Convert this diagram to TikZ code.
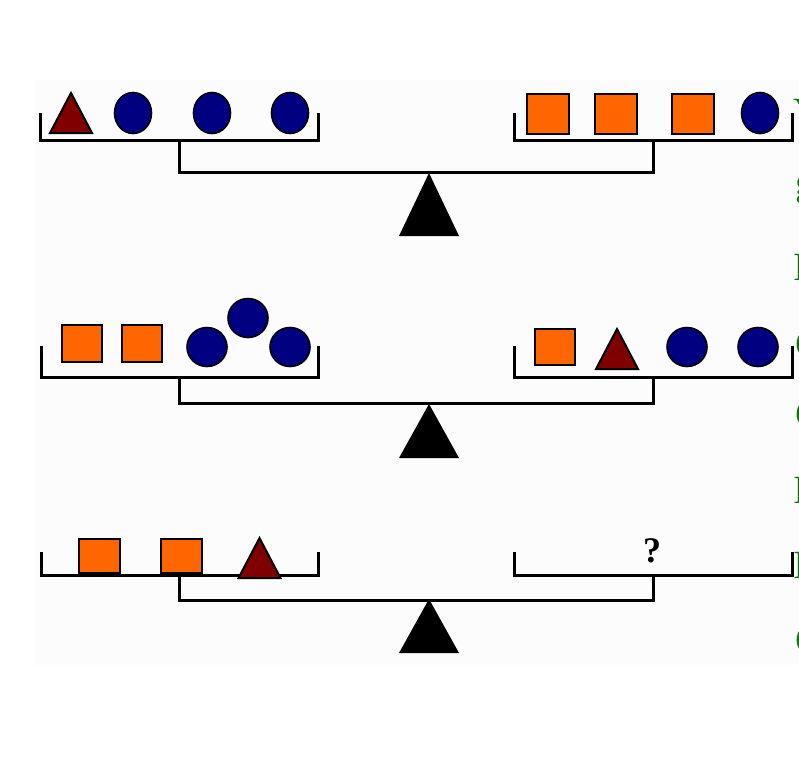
\documentclass[tikz,border=0pt]{standalone}
\usepackage{fontspec}
\setmainfont{Liberation Serif}
\usetikzlibrary{shapes.geometric}
\definecolor{navyc}{RGB}{0,0,128}
\definecolor{orangec}{RGB}{255,102,0}
\definecolor{redc}{RGB}{128,0,0}
\definecolor{greenc}{RGB}{20,110,20}
\begin{document}
\begin{tikzpicture}[x=1pt,y=-1pt,
  pan/.style={line width=3pt, line join=miter},
  ball/.style={ellipse, fill=navyc, draw=black, line width=1.6pt, minimum width=37pt, minimum height=41pt, inner sep=0pt},
  box/.style={rectangle, fill=orangec, draw=black, line width=2.4pt, inner sep=0pt},
  fulcrum/.pic={\fill[black] (0,0) -- (30,63) -- (-30,63) -- cycle;},
  smallfulcrum/.pic={\fill[black] (0,0) -- (30,54) -- (-30,54) -- cycle;},
  wt/.pic={\draw[fill=redc, line width=2pt, line join=miter] (0,0) -- (21,40) -- (-21,40) -- cycle;},
  edgetxt/.style={text=greenc, font=\fontsize{40}{40}\selectfont, anchor=west, inner sep=0pt}
]
\useasboundingbox (0,0) rectangle (799,769);
\fill[black!1] (35,80) rectangle (799,665);

% ---------- scale 1 ----------
\draw[pan] (40,113) |- (318,140) -- (318,113);
\draw[pan] (514,113) |- (792,140) -- (792,113);
\draw[pan] (179,140) |- (653,172) -- (653,140);
\pic at (429,173) {fulcrum};
\pic at (71,93) {wt};
\node[ball] (a1) at (133,113) {};
\node[ball] (a2) at (212,113) {};
\node[ball] (a3) at (290,113) {};
\node[box, minimum width=42pt, minimum height=40pt] (a4) at (548,114) {};
\node[box, minimum width=42pt, minimum height=40pt] (a5) at (616,114) {};
\node[box, minimum width=42pt, minimum height=40pt] (a6) at (693,114) {};
\node[ball] (a7) at (760,113) {};

% ---------- scale 2 ----------
\draw[pan] (41,346) |- (318,377) -- (318,346);
\draw[pan] (514,346) |- (792,377) -- (792,346);
\draw[pan] (179,377) |- (653,403) -- (653,377);
\pic at (429,404) {smallfulcrum};
\node[box, minimum width=40pt, minimum height=37pt] (b1) at (82,343.5) {};
\node[box, minimum width=40pt, minimum height=37pt] (b2) at (142,343.5) {};
\node[ball, minimum width=40pt, minimum height=39pt] (b3) at (207,347) {};
\node[ball, minimum width=40pt, minimum height=39pt] (b4) at (248,318) {};
\node[ball, minimum width=40pt, minimum height=39pt] (b5) at (290,347) {};
\node[box, minimum width=40pt, minimum height=36pt] (b6) at (555,347) {};
\pic at (617,329) {wt};
\node[ball, minimum width=40pt, minimum height=39pt] (b7) at (687,347) {};
\node[ball, minimum width=40pt, minimum height=39pt] (b8) at (758,347) {};

% ---------- scale 3 ----------
\draw[pan] (41,552) |- (318,575) -- (318,552);
\draw[pan] (514,552) |- (792,575) -- (792,552);
\draw[pan] (179,575) |- (653,600) -- (653,575);
\pic at (429,599) {smallfulcrum};
\node[box, minimum width=41pt, minimum height=34pt] (c1) at (99.5,556) {};
\node[box, minimum width=41pt, minimum height=34pt] (c2) at (181.5,556) {};
\begin{scope}[yscale=0.875]
\pic at (259.5,614.9) {wt};
\end{scope}
\node[font=\bfseries\fontsize{36}{36}\selectfont, inner sep=0pt] (q) at (652,551) {?};

% ---------- clipped green text at right edge ----------
\node[edgetxt] (t1) at (793,112) {Y};
\node[edgetxt] (t2) at (795,190) {g};
\node[edgetxt] (t3) at (793,267) {I};
\node[edgetxt] (t4) at (795,344) {C};
\node[edgetxt] (t5) at (795,414) {C};
\node[edgetxt] (t6) at (793,490) {I};
\node[edgetxt] (t7) at (793,565) {I};
\node[edgetxt] (t8) at (795,640) {C};
\end{tikzpicture}
\end{document}
